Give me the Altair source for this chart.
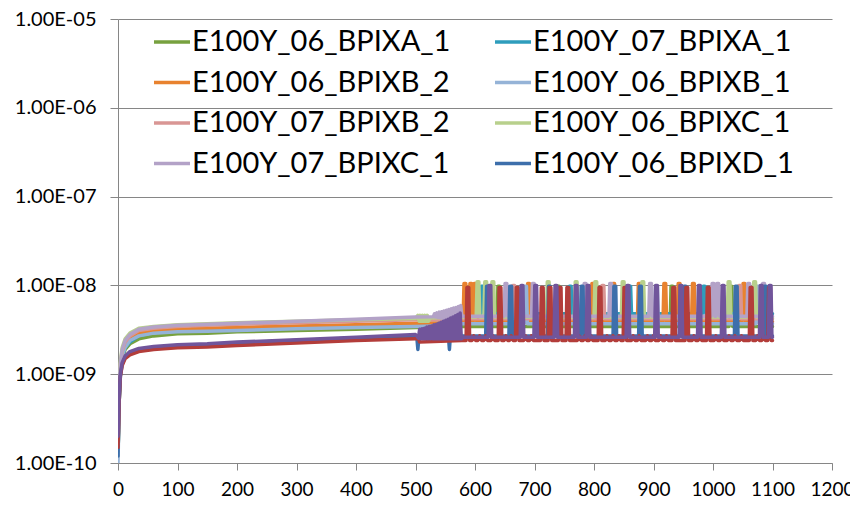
import altair as alt
import pandas as pd

# ---- series names / colours ----
names = ["E100Y_06_BPIXA_1", "E100Y_07_BPIXA_1", "E100Y_06_BPIXB_2", "E100Y_06_BPIXB_1",
         "E100Y_07_BPIXB_2", "E100Y_06_BPIXC_1", "E100Y_07_BPIXC_1", "E100Y_06_BPIXD_1",
         "E100Y_07_BPIXD_1", "E100Y_08_BPIXA_1"]
# legend is filled column by column
legend_names = ["E100Y_06_BPIXA_1", "E100Y_06_BPIXB_2", "E100Y_07_BPIXB_2", "E100Y_07_BPIXC_1",
                "E100Y_07_BPIXA_1", "E100Y_06_BPIXB_1", "E100Y_06_BPIXC_1", "E100Y_06_BPIXD_1"]
colors = ["#77A13F", "#2E9DBC", "#E8822F", "#95B3D7", "#D99694", "#B8D08C", "#B3A2C7",
          "#3D6FAB", "#B33D3A", "#71559B"]

# ---- early part (values in units of 1e-9) ----
early_x = [0, 2, 4, 7, 12, 20, 35, 60, 100, 150, 200, 300, 400, 500]
e_06A1 = [0.12, 0.5, 1.0, 1.5, 1.9, 2.2, 2.5, 2.7, 2.85, 2.9, 3.0, 3.1, 3.2, 3.35]
e_07A1 = [0.12, 0.55, 1.1, 1.6, 2.0, 2.3, 2.7, 2.95, 3.1, 3.2, 3.3, 3.4, 3.5, 3.65]
e_06B2 = [0.12, 0.6, 1.2, 1.7, 2.2, 2.6, 2.9, 3.1, 3.2, 3.3, 3.35, 3.5, 3.6, 3.75]
e_06B1 = [0.1, 0.5, 1.1, 1.6, 2.0, 2.4, 2.7, 2.9, 3.0, 3.05, 3.1, 3.25, 3.35, 3.45]
e_07B2 = [0.15, 0.7, 1.3, 1.8, 2.3, 2.7, 3.1, 3.3, 3.45, 3.55, 3.65, 3.8, 3.95, 4.1]
e_06C1 = [0.2, 0.8, 1.4, 2.0, 2.5, 2.9, 3.3, 3.45, 3.6, 3.7, 3.8, 3.95, 4.1, 4.25]
e_07C1 = [0.15, 0.7, 1.3, 1.9, 2.4, 2.8, 3.2, 3.4, 3.55, 3.65, 3.75, 3.95, 4.15, 4.4]
e_06D1 = [0.12, 0.5, 0.95, 1.3, 1.55, 1.75, 1.9, 2.0, 2.1, 2.15, 2.25, 2.4, 2.55, 2.7]
e_red = [0.15, 0.5, 0.95, 1.25, 1.5, 1.65, 1.8, 1.9, 1.98, 2.03, 2.1, 2.25, 2.4, 2.5]
e_pur = [0.2, 0.6, 1.0, 1.35, 1.6, 1.8, 1.95, 2.05, 2.15, 2.2, 2.3, 2.45, 2.6, 2.8]

# ---- transition part ----
t_06A1_x = [540, 578]; t_06A1_y = [3.4, 3.45]
t_07A1_x = [540, 570, 578]; t_07A1_y = [3.75, 3.9, 4.8]
t_06B2_x = [540, 578]; t_06B2_y = [3.8, 3.9]
t_06B1_x = [540, 578]; t_06B1_y = [3.5, 3.7]
t_07B2_x = [540, 578]; t_07B2_y = [4.1, 4.2]
t_06C1_x = [504, 506, 508, 510, 512, 514, 516, 518, 520, 522, 524, 550, 578]
t_06C1_y = [4.6, 3.95, 4.6, 3.95, 4.6, 3.95, 4.6, 3.95, 4.6, 3.95, 4.3, 4.35, 4.4]
t_07C1_x = [530, 532, 534, 536, 538, 540, 542, 544, 546, 548, 550, 552, 554, 556, 558, 560,
            562, 564, 566, 568, 570, 572, 574, 576, 578]
t_07C1_y = [4.45, 4.8, 4.4, 4.9, 4.35, 5.0, 4.3, 5.05, 4.25, 5.15, 4.2, 5.25, 4.1, 5.35, 4.05, 5.45,
            4.0, 5.55, 3.95, 5.65, 3.9, 5.8, 3.85, 5.95, 4.5]
t_06D1_x = [502, 504, 506, 555, 557, 559, 578]
t_06D1_y = [2.72, 1.9, 2.75, 2.9, 1.9, 2.95, 2.7]
t_red_x = [505, 507, 578]; t_red_y = [2.5, 2.3, 2.4]
t_pur_x = [505, 507, 509, 511, 513, 515, 517, 519, 521, 523, 525, 527, 529, 531, 533, 535, 537,
           539, 541, 543, 545, 547, 549, 551, 553, 555, 557, 559, 561, 563, 565, 567, 569, 571,
           573, 575, 577]
t_pur_y = [2.55, 3.2, 2.5, 3.25, 2.5, 3.3, 2.5, 3.4, 2.5, 3.45, 2.5, 3.5, 2.5, 3.6, 2.5, 3.65, 2.5,
           3.75, 2.5, 3.85, 2.5, 3.95, 2.5, 4.05, 2.5, 4.15, 2.5, 4.3, 2.5, 4.4, 2.5, 4.55, 2.5, 4.7,
           2.5, 4.9, 2.5]

# ---- oscillating part: baseline, peak, spike positions ----
base = [3.45, 4.8, 3.9, 3.7, 4.2, 4.4, 4.5, 2.7, 2.4, 2.6]
peak = [9.8, 9.8, 10.5, 9.8, 10.0, 11.0, 10.5, 9.8, 9.5, 10.0]
sp_06A1 = [640, 740, 931, 1030]
sp_07A1 = [612, 760, 860, 985]
sp_06B2 = [583, 593, 600, 690, 798, 833, 876, 919, 943, 967, 1052]
sp_06B1 = [685, 905, 1075]
sp_07B2 = [665, 815, 1045]
sp_06C1 = [605, 618, 630, 723, 770, 803, 849, 882, 1027, 1070]
sp_07C1 = [652, 698, 785, 828, 895, 1000, 1008, 1060, 1085]
sp_06D1 = [621, 660, 725, 780, 835, 878, 953, 1039, 1088]
sp_red = [588, 642, 671, 713, 726, 743, 756, 810, 852, 934, 956, 992, 1064, 1095]
sp_pur = [625, 679, 702, 736, 770, 790, 857, 905, 946, 977, 1017, 1081, 1096]
# small bumps of the lowest (red) baseline
red_bumps = [598, 608, 618, 630, 652, 661, 685, 695, 775, 785, 795, 822, 832, 842, 866, 876,
             890, 900, 912, 922, 968, 978, 1005, 1015, 1027, 1037, 1048, 1075, 1085]
red_bump_top = 2.7

early_all = [e_06A1, e_07A1, e_06B2, e_06B1, e_07B2, e_06C1, e_07C1, e_06D1, e_red, e_pur]
trans_all = [(t_06A1_x, t_06A1_y), (t_07A1_x, t_07A1_y), (t_06B2_x, t_06B2_y), (t_06B1_x, t_06B1_y),
             (t_07B2_x, t_07B2_y), (t_06C1_x, t_06C1_y), (t_07C1_x, t_07C1_y), (t_06D1_x, t_06D1_y),
             (t_red_x, t_red_y), (t_pur_x, t_pur_y)]
spikes_all = [sp_06A1, sp_07A1, sp_06B2, sp_06B1, sp_07B2, sp_06C1, sp_07C1, sp_06D1, sp_red, sp_pur]

rows = []
for i, name in enumerate(names):
    xs = list(early_x) + list(trans_all[i][0])
    ys = list(early_all[i]) + list(trans_all[i][1])
    xs.append(580); ys.append(base[i])
    events = [(s, "spike") for s in spikes_all[i]]
    if i == 8:
        events += [(b, "bump") for b in red_bumps]
    for s, kind in sorted(events):
        if kind == "spike":
            xs += [s - 3, s - 1.5, s + 1.5, s + 3]
            ys += [base[i], peak[i], peak[i], base[i]]
        else:
            xs += [s - 3, s, s + 3]
            ys += [base[i], red_bump_top, base[i]]
    if xs[-1] < 1100:
        xs.append(1100); ys.append(base[i])
    for k, (x, y) in enumerate(zip(xs, ys)):
        rows.append({"x": x, "y": y * 1e-9, "series": name, "k": k})

df = pd.DataFrame(rows)

GRAY = "#868686"
FONT = "Lato"

chart = alt.Chart(df).mark_line(strokeWidth=3.5, strokeJoin="round", strokeCap="round", clip=True).encode(
    x=alt.X("x:Q", scale=alt.Scale(domain=[0, 1200], nice=False, zero=False),
            axis=alt.Axis(values=list(range(0, 1300, 100)), grid=False, title=None, format="d",
                          domainColor=GRAY, tickColor=GRAY, tickSize=7, labelFontSize=19,
                          labelFont=FONT, labelColor="black", labelPadding=10,
                          labelFlush=False, labelOverlap=False)),
    y=alt.Y("y:Q", scale=alt.Scale(type="log", domain=[1e-10, 1e-5], nice=False),
            axis=alt.Axis(values=[1e-10, 1e-9, 1e-8, 1e-7, 1e-6, 1e-5], grid=True, gridColor=GRAY,
                          gridOpacity=1, title=None, domainColor=GRAY, tickColor=GRAY, tickSize=8,
                          labelFontSize=20, labelFont=FONT, labelColor="black", labelPadding=14,
                          labelExpr="'1.00E-' + (round(-log(datum.value)/LN10) < 10 ? '0' + round(-log(datum.value)/LN10) : '' + round(-log(datum.value)/LN10))")),
    color=alt.Color("series:N", scale=alt.Scale(domain=names, range=colors),
                    legend=alt.Legend(orient="none", legendX=34, legendY=3, columns=2, title=None,
                                      values=legend_names, symbolType="stroke", symbolStrokeWidth=3.5,
                                      symbolSize=1296, labelFontSize=29, labelFont=FONT,
                                      labelColor="black", labelLimit=0, labelOffset=0,
                                      rowPadding=5.5, columnPadding=37, padding=0)),
    order=alt.Order("k:Q"),
).properties(
    width=714, height=444,
    autosize=alt.AutoSizeParams(type="none"),
    padding={"left": 118, "top": 19, "right": 18, "bottom": 48},
).configure_view(stroke=None)

chart.save("out.html", embed_options={"renderer": "svg", "actions": False})
